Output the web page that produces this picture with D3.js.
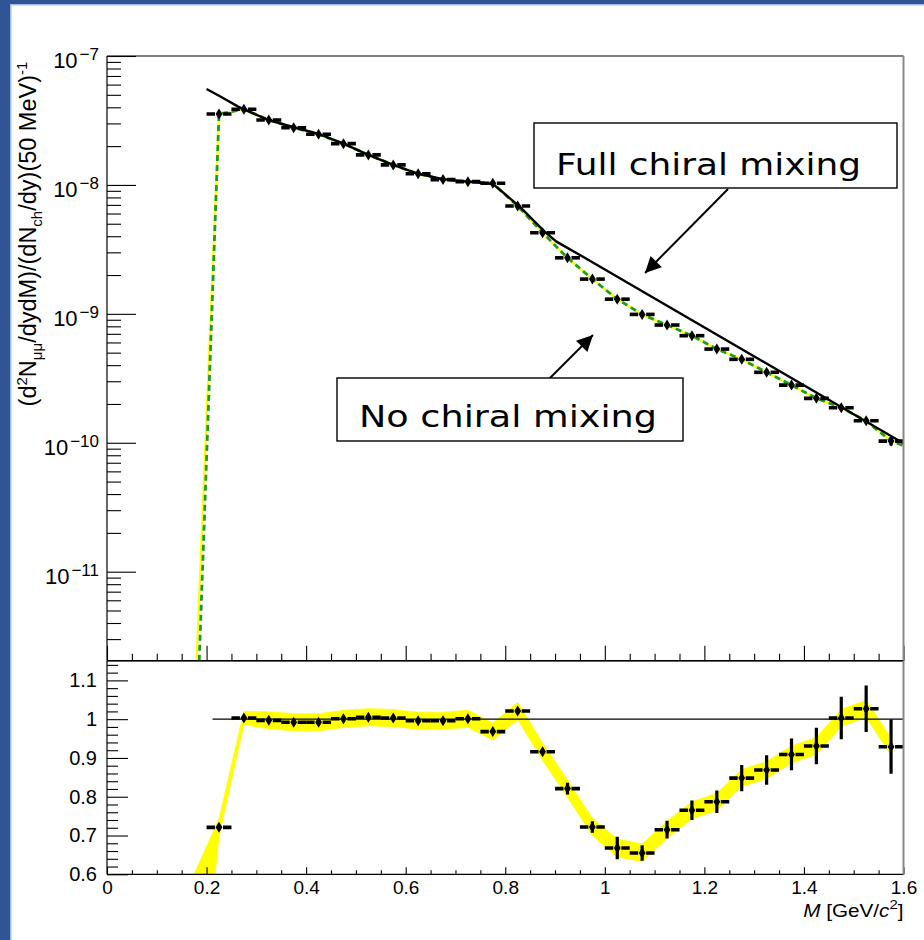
<!DOCTYPE html>
<html>
<head>
<meta charset="utf-8">
<script src="https://cdn.jsdelivr.net/npm/d3@7"></script>
<style>
  body { margin: 0; background: #fff; }
  svg { display: block; }
</style>
</head>
<body>
<div id="chart"></div>
<script>
// dimuon mass bins, 50 MeV wide (bin centres, GeV/c^2)
var massBins = [0.225, 0.275, 0.325, 0.375, 0.425, 0.475, 0.525, 0.575, 0.625, 0.675,
                0.725, 0.775, 0.825, 0.875, 0.925, 0.975, 1.025, 1.075, 1.125, 1.175,
                1.225, 1.275, 1.325, 1.375, 1.425, 1.475, 1.525, 1.575];
var binHalf = 0.025;

// spectrum, no chiral mixing (points)
var noMixYield = [3.55e-8, 3.86e-8, 3.19e-8, 2.78e-8, 2.47e-8, 2.09e-8, 1.71e-8, 1.43e-8, 1.22e-8, 1.10e-8,
                  1.06e-8, 1.03e-8, 6.86e-9, 4.26e-9, 2.72e-9, 1.86e-9, 1.30e-9, 9.9e-10, 8.19e-10, 6.77e-10,
                  5.33e-10, 4.44e-10, 3.52e-10, 2.80e-10, 2.21e-10, 1.87e-10, 1.48e-10, 1.03e-10];

// threshold end of the no-mixing curves (green dashed / yellow)
var noMixStartM = [0.1853, 0.1800];
var noMixStartY = [2.04e-12, 2.04e-12];
var noMixEnd = [1.6, 9.5e-11];

// full chiral mixing curve (black)
var fullMixM = [0.2, 0.225, 0.2636, 0.275, 0.325, 0.375, 0.425, 0.475, 0.525, 0.575,
                0.625, 0.675, 0.725, 0.7756, 0.829, 0.879, 0.903, 0.95, 1.6];
var fullMixYield = [5.55e-8, 4.92e-8, 4.05e-8, 3.85e-8, 3.18e-8, 2.80e-8, 2.49e-8, 2.09e-8, 1.71e-8, 1.43e-8,
                    1.22e-8, 1.11e-8, 1.06e-8, 1.016e-8, 6.78e-9, 4.34e-9, 3.63e-9, 2.86e-9, 9.9e-11];

// ratio no mixing / full mixing
var ratioVals = [0.721, 1.003, 0.997, 0.992, 0.992, 1.001, 1.005, 1.003, 0.996, 0.996,
                 1.001, 0.968, 1.021, 0.916, 0.821, 0.722, 0.668, 0.655, 0.715, 0.765,
                 0.787, 0.848, 0.869, 0.909, 0.931, 1.003, 1.027, 0.929];
var ratioErr = [0.005, 0.004, 0.004, 0.004, 0.004, 0.004, 0.004, 0.004, 0.004, 0.005,
                0.005, 0.006, 0.008, 0.010, 0.015, 0.015, 0.029, 0.020, 0.023, 0.025,
                0.029, 0.034, 0.038, 0.041, 0.047, 0.055, 0.060, 0.070];

// yellow band of the ratio
var bandM = [0.175, 0.225, 0.275, 0.325, 0.375, 0.425, 0.475, 0.525, 0.575, 0.625, 0.675,
             0.725, 0.775, 0.825, 0.875, 0.925, 0.975, 1.025, 1.075, 1.125, 1.175,
             1.225, 1.275, 1.325, 1.375, 1.425, 1.475, 1.525, 1.575];
var bandHi = [0.60, 0.743, 1.020, 1.019, 1.014, 1.014, 1.023, 1.027, 1.025, 1.018, 1.018,
              1.023, 0.990, 1.043, 0.938, 0.843, 0.744, 0.691, 0.678, 0.737, 0.787,
              0.809, 0.870, 0.891, 0.931, 0.953, 1.025, 1.049, 0.951];
var bandLo = [0.09, 0.699, 0.986, 0.975, 0.970, 0.970, 0.979, 0.983, 0.981, 0.974, 0.974,
              0.979, 0.946, 0.999, 0.894, 0.799, 0.700, 0.645, 0.633, 0.693, 0.743,
              0.765, 0.826, 0.847, 0.887, 0.909, 0.981, 1.005, 0.907];
var ratioLineStart = 0.212;

// axis ticks
var topMajor = [1e-11, 1e-10, 1e-9, 1e-8, 1e-7];
var xMajor = [0, 0.2, 0.4, 0.6, 0.8, 1, 1.2, 1.4, 1.6];
var ratioMajor = [0.6, 0.7, 0.8, 0.9, 1, 1.1];

var W = 924, H = 940;
var svg = d3.select("#chart").append("svg")
    .attr("width", W)
    .attr("height", H)
    .style("font-family", "'Liberation Sans', Arial, Helvetica, sans-serif");

svg.append("rect").attr("width", W).attr("height", H).attr("fill", "#fff");

// slide border
svg.append("rect").attr("x", 0).attr("y", 0).attr("width", 10).attr("height", H).attr("fill", "#2f5597");
svg.append("rect").attr("x", 0).attr("y", 0).attr("width", W).attr("height", 4).attr("fill", "#2f5597");
svg.append("rect").attr("x", 10).attr("y", 4).attr("width", 1.5).attr("height", H).attr("fill", "#9dbbe3");
svg.append("rect").attr("x", 10).attr("y", 4).attr("width", W).attr("height", 1.5).attr("fill", "#9dbbe3");

// scales
var x = d3.scaleLinear().domain([0, 1.6]).range([107, 903.5]);
var yTop = d3.scaleLog().domain([2.04e-12, 1e-7]).range([660.7, 56]);
var yRat = d3.scaleLinear().domain([0.6, 1.15]).range([874.3, 661]);

var defs = svg.append("defs");
defs.append("clipPath").attr("id", "clipTop").append("rect")
    .attr("x", x(0)).attr("y", yTop(1e-7))
    .attr("width", x(1.6) - x(0)).attr("height", yTop(2.04e-12) - yTop(1e-7));
defs.append("clipPath").attr("id", "clipRat").append("rect")
    .attr("x", x(0)).attr("y", yRat(1.15))
    .attr("width", x(1.6) - x(0)).attr("height", yRat(0.6) - yRat(1.15));
defs.append("marker").attr("id", "arrow")
    .attr("viewBox", "0 0 10 10").attr("refX", 10).attr("refY", 5)
    .attr("markerUnits", "userSpaceOnUse")
    .attr("markerWidth", 18).attr("markerHeight", 16)
    .attr("orient", "auto")
  .append("path").attr("d", "M0,0 L10,5 L0,10 z").attr("fill", "#000");

// ---------- top panel ----------
var gTop = svg.append("g").attr("clip-path", "url(#clipTop)");

var yellowPts = [[noMixStartM[1], noMixStartY[1]]]
    .concat(massBins.map(function(m, i) { return [m, noMixYield[i]]; }))
    .concat([noMixEnd]);
var greenPts = [[noMixStartM[0], noMixStartY[0]]]
    .concat(massBins.map(function(m, i) { return [m, noMixYield[i]]; }))
    .concat([noMixEnd]);
var fullPts = fullMixM.map(function(m, i) { return [m, fullMixYield[i]]; });

var lineTop = d3.line()
    .x(function(d) { return x(d[0]); })
    .y(function(d) { return yTop(d[1]); });

gTop.append("path").attr("d", lineTop(yellowPts))
    .attr("fill", "none").attr("stroke", "#ffff00").attr("stroke-width", 2.2);
gTop.append("path").attr("d", lineTop(greenPts))
    .attr("fill", "none").attr("stroke", "#1e9c1e").attr("stroke-width", 2.8)
    .attr("stroke-dasharray", "6,4");
gTop.append("path").attr("d", lineTop(fullPts))
    .attr("fill", "none").attr("stroke", "#000").attr("stroke-width", 2.4);

function drawPoints(g, ms, vals, lo, hi, yScale) {
  var pt = g.selectAll("g.pt").data(ms).enter().append("g").attr("class", "pt");
  pt.each(function(m, i) {
    var s = d3.select(this);
    var cx = x(m), cy = yScale(vals[i]);
    var gap = 4;
    s.append("line").attr("x1", x(m - binHalf)).attr("x2", cx - gap)
        .attr("y1", cy).attr("y2", cy).attr("stroke", "#000").attr("stroke-width", 3.6);
    s.append("line").attr("x1", cx + gap).attr("x2", x(m + binHalf))
        .attr("y1", cy).attr("y2", cy).attr("stroke", "#000").attr("stroke-width", 3.6);
    var yl = yScale(lo[i]), yh = yScale(hi[i]);
    if (yl - yh > 8) {
      s.append("line").attr("x1", cx).attr("x2", cx).attr("y1", yl).attr("y2", yh)
          .attr("stroke", "#000").attr("stroke-width", 3.2);
    }
    s.append("path")
        .attr("d", "M" + cx + "," + (cy - 5.5) + "L" + (cx + 3.4) + "," + cy +
                   "L" + cx + "," + (cy + 5.5) + "L" + (cx - 3.4) + "," + cy + "Z")
        .attr("fill", "#000");
  });
}

drawPoints(gTop, massBins, noMixYield,
  noMixYield.map(function(v, i) { return v * (1 - ratioErr[i] / ratioVals[i]); }),
  noMixYield.map(function(v, i) { return v * (1 + ratioErr[i] / ratioVals[i]); }),
  yTop);

// top axes
var topMinor = [];
for (var e = -12; e <= -8; e++) {
  for (var k = 2; k <= 9; k++) {
    var v = k * Math.pow(10, e);
    if (v > 2.04e-12 && v < 1e-7) topMinor.push(v);
  }
}
var gyT = svg.append("g").attr("transform", "translate(" + x(0) + ",0)")
    .call(d3.axisLeft(yTop).tickValues(topMajor).tickSizeInner(-29).tickSizeOuter(0).tickFormat(""));
var gyTm = svg.append("g").attr("transform", "translate(" + x(0) + ",0)")
    .call(d3.axisLeft(yTop).tickValues(topMinor).tickSizeInner(-14).tickSizeOuter(0).tickFormat(""));

var xMinor = [];
for (var j = 1; j < 32; j++) { if (j % 4 !== 0) xMinor.push(j * 0.05); }

var gxT = svg.append("g").attr("transform", "translate(0," + yTop(2.04e-12) + ")")
    .call(d3.axisBottom(x).tickValues(xMajor).tickSizeInner(-15).tickSizeOuter(0).tickFormat(""));
var gxTm = svg.append("g").attr("transform", "translate(0," + yTop(2.04e-12) + ")")
    .call(d3.axisBottom(x).tickValues(xMinor).tickSizeInner(-7).tickSizeOuter(0).tickFormat(""));

topMajor.forEach(function(v) {
  var ex = Math.round(Math.log10(v));
  var t = svg.append("text").attr("x", 99).attr("y", yTop(v) + 12)
      .attr("text-anchor", "end").attr("fill", "#000");
  t.append("tspan").attr("font-size", 22).text("10");
  t.append("tspan").attr("font-size", 17).attr("dy", -8).attr("dx", 2).text("\u2212" + (-ex));
});

// y title
var yt = svg.append("text")
    .attr("transform", "translate(36,234) rotate(-90)")
    .attr("text-anchor", "middle").attr("font-size", 23.5).attr("fill", "#000");
yt.append("tspan").text("(d");
yt.append("tspan").attr("font-size", 15).attr("dy", -9).text("2");
yt.append("tspan").attr("dy", 9).text("N");
yt.append("tspan").attr("font-size", 15).attr("dy", 6).text("\u03bc\u03bc");
yt.append("tspan").attr("dy", -6).text("/dydM)/(dN");
yt.append("tspan").attr("font-size", 15).attr("dy", 6).text("ch");
yt.append("tspan").attr("dy", -6).text("/dy)(50 MeV)");
yt.append("tspan").attr("font-size", 15).attr("dy", -9).text("-1");

// ---------- ratio panel ----------
var gRat = svg.append("g").attr("clip-path", "url(#clipRat)");

var band = d3.area()
    .x(function(d, i) { return x(bandM[i]); })
    .y0(function(d, i) { return yRat(bandLo[i]); })
    .y1(function(d, i) { return yRat(bandHi[i]); });
gRat.append("path").attr("d", band(bandM)).attr("fill", "#ffff00").attr("stroke", "#ffff00").attr("stroke-width", 0.8);

gRat.append("line")
    .attr("x1", x(ratioLineStart)).attr("x2", x(1.6))
    .attr("y1", yRat(1)).attr("y2", yRat(1))
    .attr("stroke", "#000").attr("stroke-width", 1.2);

drawPoints(gRat, massBins, ratioVals,
  ratioVals.map(function(v, i) { return v - ratioErr[i]; }),
  ratioVals.map(function(v, i) { return v + ratioErr[i]; }),
  yRat);

var ratioMinor = [];
for (var r = 0; r <= 27; r++) {
  if (r % 5 !== 0) ratioMinor.push(0.6 + r * 0.02);
}

var gyR = svg.append("g").attr("transform", "translate(" + x(0) + ",0)")
    .call(d3.axisLeft(yRat).tickValues(ratioMajor).tickSizeInner(-21).tickSizeOuter(0).tickPadding(10)
      .tickFormat(function(d) { return String(d); }));
var gyRm = svg.append("g").attr("transform", "translate(" + x(0) + ",0)")
    .call(d3.axisLeft(yRat).tickValues(ratioMinor).tickSizeInner(-11).tickSizeOuter(0).tickFormat(""));

var gxR = svg.append("g").attr("transform", "translate(0," + yRat(0.6) + ")")
    .call(d3.axisBottom(x).tickValues(xMajor).tickSizeInner(-7).tickSizeOuter(0).tickPadding(6)
      .tickFormat(function(d) { return String(d); }));
var gxRm = svg.append("g").attr("transform", "translate(0," + yRat(0.6) + ")")
    .call(d3.axisBottom(x).tickValues(xMinor).tickSizeInner(-4).tickSizeOuter(0).tickFormat(""));

[gyT, gyTm, gxT, gxTm, gyR, gyRm, gxR, gxRm].forEach(function(g) {
  g.select(".domain").remove();
  g.selectAll(".tick line").attr("stroke", "#000").attr("stroke-width", 1.1);
  g.selectAll(".tick text").attr("font-size", 20)
      .attr("font-family", "'Liberation Sans', Arial, sans-serif").attr("fill", "#000");
});
gxR.selectAll(".tick text").attr("font-size", 19);

// frames
function frame(x0, y0, x1, y1) {
  var f = svg.append("g").attr("fill", "none");
  f.append("line").attr("x1", x0).attr("x2", x1).attr("y1", y0).attr("y2", y0).attr("stroke", "#000").attr("stroke-width", 1.2);
  f.append("line").attr("x1", x0).attr("x2", x1).attr("y1", y1).attr("y2", y1).attr("stroke", "#000").attr("stroke-width", 1.2);
  f.append("line").attr("x1", x0).attr("x2", x0).attr("y1", y0).attr("y2", y1).attr("stroke", "#000").attr("stroke-width", 1.2);
  f.append("line").attr("x1", x1).attr("x2", x1).attr("y1", y0).attr("y2", y1).attr("stroke", "#888").attr("stroke-width", 2);
}
frame(x(0), yTop(1e-7), x(1.6), yTop(2.04e-12));
frame(x(0), yRat(1.15), x(1.6), yRat(0.6));

// x title (slightly stretched horizontally like the reference)
var xt = svg.append("text").attr("transform", "translate(" + x(1.6) + ",917) scale(1.15,1)")
    .attr("text-anchor", "end").attr("font-size", 18).attr("fill", "#000");
xt.append("tspan").attr("font-style", "italic").text("M");
xt.append("tspan").text(" [GeV/");
xt.append("tspan").attr("font-style", "italic").text("c");
xt.append("tspan").attr("font-size", 13).attr("dy", -8).text("2");
xt.append("tspan").attr("dy", 8).text("]");

// annotations
var notes = [
  { text: "Full chiral mixing", bx: 534, by: 123, bw: 363, bh: 65, tx: 556, ty: 175, tl: 305,
    from: [728, 189], to: [645, 273] },
  { text: "No chiral mixing", bx: 337, by: 378, bw: 346, bh: 63, tx: 359, ty: 427, tl: 298,
    from: [548, 380], to: [593, 335] }
];
notes.forEach(function(n) {
  svg.append("line").attr("x1", n.from[0]).attr("y1", n.from[1])
      .attr("x2", n.to[0]).attr("y2", n.to[1])
      .attr("stroke", "#000").attr("stroke-width", 2).attr("marker-end", "url(#arrow)");
  svg.append("rect").attr("x", n.bx).attr("y", n.by).attr("width", n.bw).attr("height", n.bh)
      .attr("fill", "#fff").attr("stroke", "#000").attr("stroke-width", 1.4);
  svg.append("text").attr("x", n.tx).attr("y", n.ty)
      .attr("font-family", "'DejaVu Sans', Verdana, sans-serif").attr("font-size", 31)
      .attr("textLength", n.tl).attr("lengthAdjust", "spacingAndGlyphs")
      .attr("fill", "#000").text(n.text);
});
</script>
</body>
</html>
